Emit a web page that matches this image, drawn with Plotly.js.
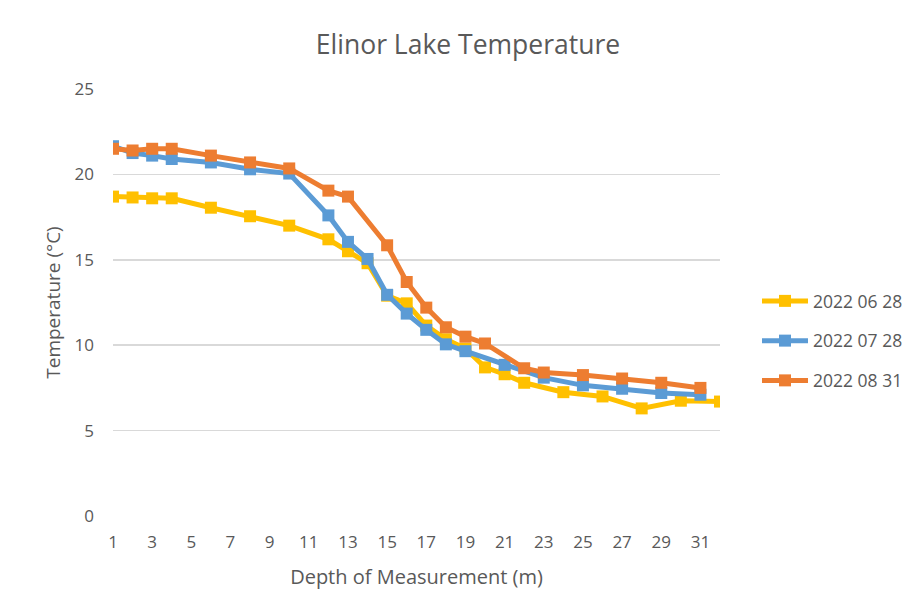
<!DOCTYPE html>
<html>
<head>
<meta charset="utf-8">
<script src="https://cdn.plot.ly/plotly-3.0.1.min.js"></script>
<style>html,body{margin:0;padding:0;background:#fff;}#chart{width:917px;height:613px;}</style>
</head>
<body>
<div id="chart"></div>
<script>
// Series: 2022 06 28
var depthJune = [1,2,3,4,6,8,10,12,13,14,15,16,17,18,19,20,21,22,24,26,28,30,32];
var tempJune  = [18.7,18.65,18.6,18.6,18.05,17.55,17.0,16.2,15.5,14.8,12.9,12.45,11.15,10.35,9.8,8.7,8.3,7.8,7.25,7.0,6.3,6.75,6.7];
// Series: 2022 07 28
var depthJuly = [1,2,3,4,6,8,10,12,13,14,15,16,17,18,19,21,23,25,27,29,31];
var tempJuly  = [21.65,21.25,21.1,20.9,20.7,20.3,20.05,17.6,16.05,15.05,12.95,11.85,10.9,10.05,9.65,8.85,8.1,7.65,7.45,7.2,7.1];
// Series: 2022 08 31
var depthAug = [1,2,3,4,6,8,10,12,13,15,16,17,18,19,20,22,23,25,27,29,31];
var tempAug  = [21.5,21.4,21.5,21.5,21.1,20.7,20.35,19.05,18.7,15.85,13.7,12.2,11.05,10.5,10.1,8.65,8.4,8.25,8.05,7.8,7.5];

var seriesNames = ['2022 06 28','2022 07 28','2022 08 31'];
var seriesColors = ['#FFC000','#5B9BD5','#ED7D31'];
var xTickVals = [1,3,5,7,9,11,13,15,17,19,21,23,25,27,29,31];
var yTickVals = [0,5,10,15,20,25];

function mk(x,y,i){
  return {x:x,y:y,type:'scatter',mode:'lines+markers',name:seriesNames[i],legendgroup:'g'+i,
    line:{color:seriesColors[i],width:5},
    marker:{symbol:'square',size:12,color:seriesColors[i]}};
}
var data=[mk(depthJune,tempJune,0),mk(depthJuly,tempJuly,1),mk(depthAug,tempAug,2)];
var fontFam='"Open Sans", "Noto Sans", sans-serif';
var layout={
  width:917,height:613,
  paper_bgcolor:'#fff',plot_bgcolor:'#fff',
  margin:{l:113,r:197,t:89,b:97,pad:0},
  font:{family:fontFam,color:'#595959',size:17},
  title:{text:'Elinor Lake Temperature',font:{family:fontFam,size:26.5,color:'#595959'},
    x:468/917,xref:'container',y:1-45/613,yref:'container',xanchor:'center',yanchor:'middle'},
  xaxis:{range:[1,32],tickvals:xTickVals,showgrid:false,zeroline:false,showline:false,ticks:'',
    ticklabelstandoff:14,tickfont:{size:17,color:'#595959'},
    title:{text:'Depth of Measurement (m)',font:{size:20,color:'#595959'},standoff:17}},
  yaxis:{range:[0,25],tickvals:yTickVals,showgrid:true,gridcolor:'#d9d9d9',gridwidth:1.5,zeroline:false,showline:false,ticks:'',
    ticklabelstandoff:18,tickfont:{size:17,color:'#595959'},
    title:{text:'Temperature (°C)',font:{size:19,color:'#595959'},standoff:8}},
  showlegend:true,
  legend:{x:757/917,xref:'container',y:1-341/613,yref:'container',yanchor:'middle',xanchor:'left',tracegroupgap:14,itemwidth:46,
    font:{size:17.5,color:'#595959'},bgcolor:'rgba(0,0,0,0)'}
};
Plotly.newPlot('chart',data,layout,{displayModeBar:false,staticPlot:true});
</script>
</body>
</html>
